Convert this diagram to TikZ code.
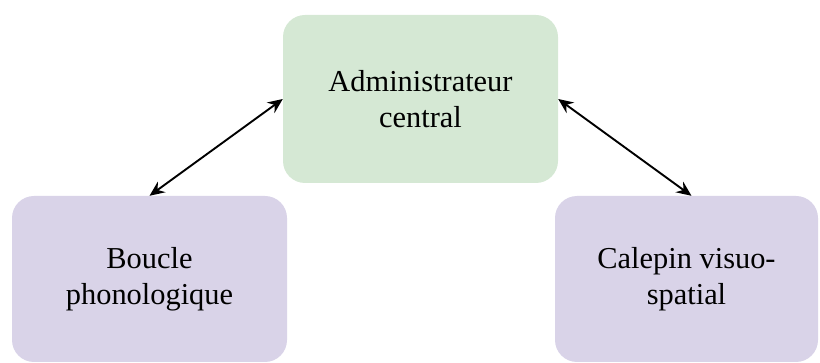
\documentclass[tikz,border=0pt]{standalone}
\usepackage{fontspec}
\setmainfont{Liberation Serif}
\usetikzlibrary{arrows.meta}
\definecolor{boxgreen}{HTML}{D5E8D4}
\definecolor{boxpurple}{HTML}{D9D3E8}
\tikzset{
  box/.style={rounded corners=22pt, inner sep=0pt, align=center,
    font=\fontsize{30.4}{36.5}\selectfont},
  link/.style={line width=1.9pt, {Stealth[length=15pt,width=13pt,inset=5pt]}-{Stealth[length=15pt,width=13pt,inset=5pt]}}
}
\begin{document}
\begin{tikzpicture}[x=1pt,y=-1pt]
\useasboundingbox (0,0) rectangle (820,363);
\node[box, fill=boxgreen, minimum width=275pt, minimum height=168pt] (admin) at (420.5,99) {Administrateur\\central};
\node[box, fill=boxpurple, minimum width=275pt, minimum height=166pt] (boucle) at (149.5,279) {Boucle\\phonologique};
\node[box, fill=boxpurple, minimum width=263pt, minimum height=166pt] (calepin) at (686.5,279) {Calepin visuo-\\spatial};
\draw[link] (admin.west) -- (boucle.north);
\draw[link] (admin.east) -- ([xshift=5pt]calepin.north);
\end{tikzpicture}
\end{document}
